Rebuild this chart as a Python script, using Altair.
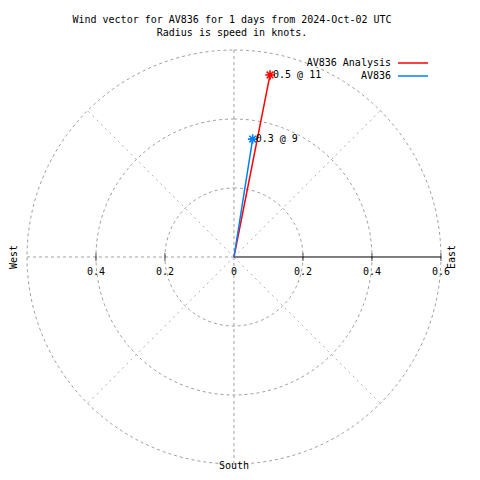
import altair as alt
import pandas as pd
import numpy as np

# ---- data ----
title_lines = ["Wind vector for AV836 for 1 days from 2024-Oct-02 UTC",
               "Radius is speed in knots."]
series = ["AV836 Analysis", "AV836"]
speeds = [0.538, 0.346]          # knots
directions = [11.2, 9.0]         # degrees (compass, clockwise from north)
vec_labels = ["0.5 @ 11", "0.3 @ 9"]
colors = ["#ff0000", "#0080ff"]

rings = [0.2, 0.4, 0.6]
spoke_angles = [0, 45, 135, 180, 225, 270, 315]
tick_values = [0.2, 0.4, 0.6, -0.2, -0.4]
tick_label_pos = [0.0, 0.2, 0.4, 0.6, -0.2, -0.4]
tick_label_text = ["0", "0.2", "0.4", "0.6", "0.2", "0.4"]
compass_names = ["West", "East", "South"]
compass_dirs = [270, 90, 180]
compass_r = [0.638, 0.632, 0.607]

FONT = "DejaVu Sans Mono"
GRID = "#a0a0a0"

xs = alt.Scale(domain=[-0.655, 0.690], nice=False, zero=False)
ys = alt.Scale(domain=[-0.6232, 0.6058], nice=False, zero=False)


def X(f):
    return alt.X(f, type="quantitative", scale=xs, axis=None)


def Y(f):
    return alt.Y(f, type="quantitative", scale=ys, axis=None)


# rings
ring_rows = []
for r in rings:
    for a in range(0, 361, 2):
        t = np.radians(a)
        ring_rows.append({"r": r, "a": a, "x": r * np.sin(t), "y": r * np.cos(t)})
ring_df = pd.DataFrame(ring_rows)

spoke_df = pd.DataFrame({
    "a": spoke_angles,
    "diag": [a % 90 != 0 for a in spoke_angles],
    "x0": 0.0, "y0": 0.0,
    "x": [rings[-1] * np.sin(np.radians(a)) for a in spoke_angles],
    "y": [rings[-1] * np.cos(np.radians(a)) for a in spoke_angles],
})

axis_df = pd.DataFrame({"x0": [0.0], "y0": [0.0], "x": [rings[-1]], "y": [0.0]})
tick_df = pd.DataFrame({"x": tick_values, "y": 0.0})
tick_lab_df = pd.DataFrame({"x": tick_label_pos, "y": 0.0, "t": tick_label_text})
comp_df = pd.DataFrame({
    "name": compass_names,
    "x": [r * np.sin(np.radians(a)) for r, a in zip(compass_r, compass_dirs)],
    "y": [r * np.cos(np.radians(a)) for r, a in zip(compass_r, compass_dirs)],
})

vec_rows = []
tip_rows = []
for s, sp, d, lab in zip(series, speeds, directions, vec_labels):
    t = np.radians(d)
    vec_rows.append({"series": s, "o": 0, "x": 0.0, "y": 0.0})
    vec_rows.append({"series": s, "o": 1, "x": sp * np.sin(t), "y": sp * np.cos(t)})
    tip_rows.append({"series": s, "label": lab, "x": sp * np.sin(t), "y": sp * np.cos(t)})
vec_df = pd.DataFrame(vec_rows)
tip_df = pd.DataFrame(tip_rows)

col = alt.Color("series:N", scale=alt.Scale(domain=series, range=colors), legend=None)

rings_l = alt.Chart(ring_df).mark_line(color=GRID, strokeWidth=1, strokeDash=[3, 3]).encode(
    x=X("x"), y=Y("y"), detail="r:N", order="a:Q")
spokes_l = alt.Chart(spoke_df).transform_filter(~alt.datum.diag).mark_rule(
    color=GRID, strokeWidth=1, strokeDash=[3, 3]).encode(
    x=X("x0"), y=Y("y0"), x2="x", y2="y")
diag_l = alt.Chart(spoke_df).transform_filter(alt.datum.diag).mark_rule(
    color="#b4b4b4", strokeWidth=1, strokeDash=[2, 4]).encode(
    x=X("x0"), y=Y("y0"), x2="x", y2="y")
axis_l = alt.Chart(axis_df).mark_rule(color="black", strokeWidth=1).encode(
    x=X("x0"), y=Y("y0"), x2="x", y2="y")
ticks_l = alt.Chart(tick_df).mark_tick(color="black", orient="vertical", size=8, thickness=1).encode(
    x=X("x"), y=Y("y"))
tlab_l = alt.Chart(tick_lab_df).mark_text(font=FONT, fontSize=10, color="black", dy=15,
                                          align="center", baseline="middle").encode(
    x=X("x"), y=Y("y"), text="t:N")
comp_rot = alt.Chart(comp_df).transform_filter(alt.datum.name != "South").mark_text(
    font=FONT, fontSize=10, color="black", angle=270, align="center", baseline="middle").encode(
    x=X("x"), y=Y("y"), text="name:N")
comp_s = alt.Chart(comp_df).transform_filter(alt.datum.name == "South").mark_text(
    font=FONT, fontSize=10, color="black", align="center", baseline="middle").encode(
    x=X("x"), y=Y("y"), text="name:N")

vec_l = alt.Chart(vec_df).mark_line(strokeWidth=1.5).encode(
    x=X("x"), y=Y("y"), color=col, detail="series:N", order="o:Q")
star = "M-1,0L1,0M0,-1L0,1M-0.7,-0.7L0.7,0.7M-0.7,0.7L0.7,-0.7"
tips_l = alt.Chart(tip_df).mark_point(shape=star, size=90, filled=False, strokeWidth=1.6,
                                      opacity=1).encode(
    x=X("x"), y=Y("y"), color=col)
vlab_l = alt.Chart(tip_df).mark_text(font=FONT, fontSize=10, color="black", align="left",
                                     baseline="middle", dx=3).encode(
    x=X("x"), y=Y("y"), text="label:N")

# legend (top right)
leg_layers = []
leg_y = [15, 28]
for s, c, py in zip(series, colors, leg_y):
    d = pd.DataFrame({"series": [s]})
    leg_layers.append(alt.Chart(d).mark_text(font=FONT, fontSize=10, color="black",
                                             align="right", baseline="middle").encode(
        x=alt.value(383), y=alt.value(py), text="series:N"))
    leg_layers.append(alt.Chart(d).mark_rule(color=c, strokeWidth=1.5).encode(
        x=alt.value(390), x2=alt.value(420), y=alt.value(py)))

chart = alt.layer(rings_l, spokes_l, diag_l, axis_l, ticks_l, tlab_l, comp_rot, comp_s,
                  vec_l, tips_l, vlab_l, *leg_layers).properties(
    width=464, height=424,
    title=alt.TitleParams(text=title_lines, font=FONT, fontSize=10, fontWeight="normal",
                          color="black", anchor="middle", dx=-8, offset=10, lineHeight=13),
    autosize="none",
    padding={"top": 40, "left": 0, "right": 0, "bottom": 0},
).configure(background="white").configure_view(strokeWidth=0, stroke="transparent")

chart.save("out.html", embed_options={"renderer": "svg", "actions": False})
